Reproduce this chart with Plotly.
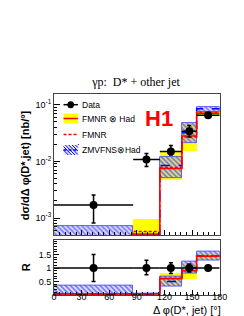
import plotly.graph_objects as go

# ---------------- data ----------------
bin_edges = [0, 86, 115, 139, 155, 180]

data_xsec = [1.7e-3, 1.08e-2, 1.5e-2, 3.4e-2, 6.5e-2]
data_err_up = [0.86e-3, 0.30e-2, 0.40e-2, 0.9e-2, 0.5e-2]
data_err_dn = [0.88e-3, 0.27e-2, 0.21e-2, 0.7e-2, 0.4e-2]

fmnr_had = [6.8e-5, 5.2e-4, 7.5e-3, 2.8e-2, 7.1e-2]
fmnr_had_lo = [4e-5, 3e-4, 4.7e-3, 1.5e-2, 6.3e-2]
fmnr_had_hi = [1e-4, 9.5e-4, 1.47e-2, 4.6e-2, 7.8e-2]
fmnr = [5e-5, 5.8e-4, 7.8e-3, 2.7e-2, 7.4e-2]
zmvfns = [1e-4, 4.2e-4, 8.5e-3, 3.2e-2, 8.5e-2]
zmvfns_lo = [2e-5, 3e-4, 5.0e-3, 2.1e-2, 7.6e-2]
zmvfns_hi = [7.2e-4, 5e-4, 1.21e-2, 4.7e-2, 9.1e-2]

ratio_data = [1, 1, 1, 1, 1]
ratio_err_up = [0.5, 0.29, 0.2, 0.15, 0.06]
ratio_err_dn = [0.5, 0.25, 0.2, 0.15, 0.06]
ratio_fmnr_had = [0.04, 0.05, 0.6, 0.9, 1.44]
ratio_fmnr_had_lo = [0.02, 0.03, 0.35, 0.62, 1.3]
ratio_fmnr_had_hi = [0.06, 0.09, 0.84, 1.22, 1.58]
ratio_fmnr = [0.03, 0.05, 0.62, 0.92, 1.46]
ratio_zmvfns = [0.04, 0.03, 0.5, 1.0, 1.45]
ratio_zmvfns_lo = [0.01, 0.02, 0.31, 0.81, 1.29]
ratio_zmvfns_hi = [0.37, 0.05, 0.69, 1.25, 1.6]

x_ticks = [0, 30, 60, 90, 120, 150, 180]
r_ticks = [0.5, 1, 1.5]
r_tick_labels = ["0.5", "1", "1.5"]
top_ticks = [1e-3, 1e-2, 1e-1]
top_tick_labels = ["10<sup>-3</sup>", "10<sup>-2</sup>", "10<sup>-1</sup>"]

# ---------------- helpers ----------------
W, H = 244, 316
centers = [(a + b) / 2 for a, b in zip(bin_edges[:-1], bin_edges[1:])]
widths = [b - a for a, b in zip(bin_edges[:-1], bin_edges[1:])]
halfw = [w / 2 for w in widths]


def px(x):
    return x / W


def py(y):
    return 1 - y / H


YELLOW = "#ffff00"
RED = "#ff0000"
BLUE = "#0000ff"
HATCH_BG = "rgba(200,200,255,0.5)"

fig = go.Figure()


def add_panel(xa, ya, zm_band, lo, hi, c_had, c_fmnr, c_zm, dat, eu, ed):
    fig.add_trace(go.Bar(x=centers, y=[h - l for h, l in zip(hi, lo)], base=lo,
                         width=widths, marker=dict(color=YELLOW, line=dict(width=0)),
                         xaxis=xa, yaxis=ya, showlegend=False, hoverinfo="skip"))
    fig.add_trace(go.Bar(x=centers, y=[h - l for h, l in zip(zm_band[1], zm_band[0])],
                         base=zm_band[0], width=widths,
                         marker=dict(color="rgba(0,0,0,0)",
                                     line=dict(width=0.8, color="#4040ff"),
                                     pattern=dict(shape="\\", fgcolor=BLUE, bgcolor=HATCH_BG,
                                                  size=3.5, solidity=0.45)),
                         xaxis=xa, yaxis=ya, showlegend=False, hoverinfo="skip"))
    fig.add_trace(go.Scatter(x=bin_edges, y=c_zm + [c_zm[-1]], mode="lines", line_shape="hv",
                             line=dict(color=BLUE, width=1.5, dash="dash"),
                             xaxis=xa, yaxis=ya, showlegend=False, hoverinfo="skip"))
    fig.add_trace(go.Scatter(x=bin_edges, y=c_had + [c_had[-1]], mode="lines", line_shape="hv",
                             line=dict(color=RED, width=1.5),
                             xaxis=xa, yaxis=ya, showlegend=False, hoverinfo="skip"))
    fig.add_trace(go.Scatter(x=bin_edges, y=c_fmnr + [c_fmnr[-1]], mode="lines", line_shape="hv",
                             line=dict(color=RED, width=1.5, dash="3px,2px"),
                             xaxis=xa, yaxis=ya, showlegend=False, hoverinfo="skip"))
    fig.add_trace(go.Scatter(x=centers, y=dat, mode="markers",
                             marker=dict(color="black", size=8),
                             error_x=dict(type="data", array=halfw, symmetric=True,
                                          color="black", thickness=1.5, width=0),
                             error_y=dict(type="data", array=eu, arrayminus=ed, symmetric=False,
                                          color="black", thickness=1.5, width=2),
                             xaxis=xa, yaxis=ya, showlegend=False, hoverinfo="skip"))


# top panel: cross sections
add_panel("x", "y", (zmvfns_lo, zmvfns_hi), fmnr_had_lo, fmnr_had_hi, fmnr_had, fmnr, zmvfns,
          data_xsec, data_err_up, data_err_dn)
# bottom panel: ratios
add_panel("x2", "y2", (ratio_zmvfns_lo, ratio_zmvfns_hi), ratio_fmnr_had_lo, ratio_fmnr_had_hi,
          ratio_fmnr_had, ratio_fmnr, ratio_zmvfns, ratio_data, ratio_err_up, ratio_err_dn)

FRAME = "#444444"
SANS = "Liberation Sans, Arial, sans-serif"
TICKFONT = dict(family=SANS, size=9, color="black")
xdom = [px(45), px(218.5)]

common_x = dict(range=[0, 180], domain=xdom, showgrid=False, zeroline=False,
                showline=True, linecolor=FRAME, linewidth=1, mirror=True,
                ticks="inside", ticklen=5, tickcolor="black",
                tickmode="array", tickvals=x_ticks,
                minor=dict(ticks="inside", ticklen=3, dtick=6, tick0=0, tickcolor="black"))

fig.update_layout(
    width=W, height=H, autosize=False,
    margin=dict(l=0, r=0, t=0, b=0),
    paper_bgcolor="white", plot_bgcolor="white",
    barmode="overlay", bargap=0,
    showlegend=False,
    xaxis=dict(common_x, anchor="y", showticklabels=False),
    yaxis=dict(type="log", range=[-3.30, -0.81], domain=[py(227), py(86)],
               showgrid=False, zeroline=False, showline=True, linecolor=FRAME,
               linewidth=1, mirror=True, ticks="inside", ticklen=6, tickcolor="black",
               tickmode="array", tickvals=top_ticks, ticktext=top_tick_labels,
               tickfont=dict(family=SANS, size=9, color="black"),
               minor=dict(ticks="inside", ticklen=3, tickcolor="black", dtick="D1"),
               anchor="x"),
    xaxis2=dict(common_x, anchor="y2", showticklabels=True, tickfont=TICKFONT,
                ticklabelstandoff=-7),
    yaxis2=dict(range=[0, 2.06], domain=[py(287), py(231.5)],
                showgrid=False, zeroline=False, showline=True, linecolor=FRAME,
                linewidth=1, mirror=True, ticks="inside", ticklen=5, tickcolor="black",
                tickmode="array", tickvals=r_ticks, ticktext=r_tick_labels, tickfont=TICKFONT,
                minor=dict(ticks="inside", ticklen=3, dtick=0.1, tickcolor="black"),
                anchor="x2"),
    title=dict(text="γp:  D* + other jet", x=px(128), xanchor="center",
               y=py(74), yanchor="middle", yref="container", xref="container",
               font=dict(family="Liberation Serif, Times New Roman, serif", size=12, color="black")),
)

ann_font = dict(family=SANS, color="black")
annotations = [
    dict(text="<b>dσ/dΔ φ(D*,jet) [nb/°]</b>", x=px(15), y=py(157), textangle=-90,
         font=dict(ann_font, size=11)),
    dict(text="<b>R</b>", x=px(16), y=py(259), textangle=-90, font=dict(ann_font, size=11)),
    dict(text="Δ φ(D*, jet) [°]", x=px(222), y=py(301.5), xanchor="right",
         font=dict(ann_font, size=11)),
    dict(text="<b>H1</b>", x=px(155), y=py(110), font=dict(ann_font, size=22, color=RED)),
    dict(text="Data", x=px(72), y=py(97), xanchor="left", font=dict(ann_font, size=8.5)),
    dict(text="FMNR ⊗ Had", x=px(72), y=py(111), xanchor="left", font=dict(ann_font, size=8.5)),
    dict(text="FMNR", x=px(72), y=py(126.5), xanchor="left", font=dict(ann_font, size=8.5)),
    dict(text="ZMVFNS⊗Had", x=px(72), y=py(142), xanchor="left", font=dict(ann_font, size=8.5)),
]
for a in annotations:
    a.update(xref="paper", yref="paper", showarrow=False)
    a.setdefault("xanchor", "center")
    a.setdefault("yanchor", "middle")
fig.update_layout(annotations=annotations)

# legend keys (decorations in paper coordinates)
shapes = [
    dict(type="line", x0=px(55), x1=px(70), y0=py(96.7), y1=py(96.7),
         line=dict(color="black", width=1.5)),
    dict(type="circle", x0=px(59), x1=px(66), y0=py(100.2), y1=py(93.2),
         fillcolor="black", line=dict(color="black", width=0)),
    dict(type="rect", x0=px(55), x1=px(70), y0=py(115.5), y1=py(105.5),
         fillcolor=YELLOW, line=dict(width=0)),
    dict(type="line", x0=px(55), x1=px(70), y0=py(110.5), y1=py(110.5),
         line=dict(color=RED, width=1.5)),
    dict(type="line", x0=px(55), x1=px(70), y0=py(126.5), y1=py(126.5),
         line=dict(color=RED, width=1.5, dash="3px,2px")),
    dict(type="rect", x0=px(55), x1=px(70), y0=py(147), y1=py(137),
         fillcolor=HATCH_BG, line=dict(width=0)),
]
for i in range(7):
    x0 = 50 + 3.5 * i
    xa, xb = max(x0, 55), min(x0 + 10, 70)
    shapes.append(dict(type="line", x0=px(xa), x1=px(xb),
                       y0=py(137 + (xa - x0)), y1=py(137 + (xb - x0)),
                       line=dict(color=BLUE, width=1)))
shapes.append(dict(type="line", x0=px(55), x1=px(70), y0=py(142), y1=py(142),
                   line=dict(color=BLUE, width=1.5, dash="3px,2px")))
for s in shapes:
    s.update(xref="paper", yref="paper")
fig.update_layout(shapes=shapes)

fig.write_html("out.html")
